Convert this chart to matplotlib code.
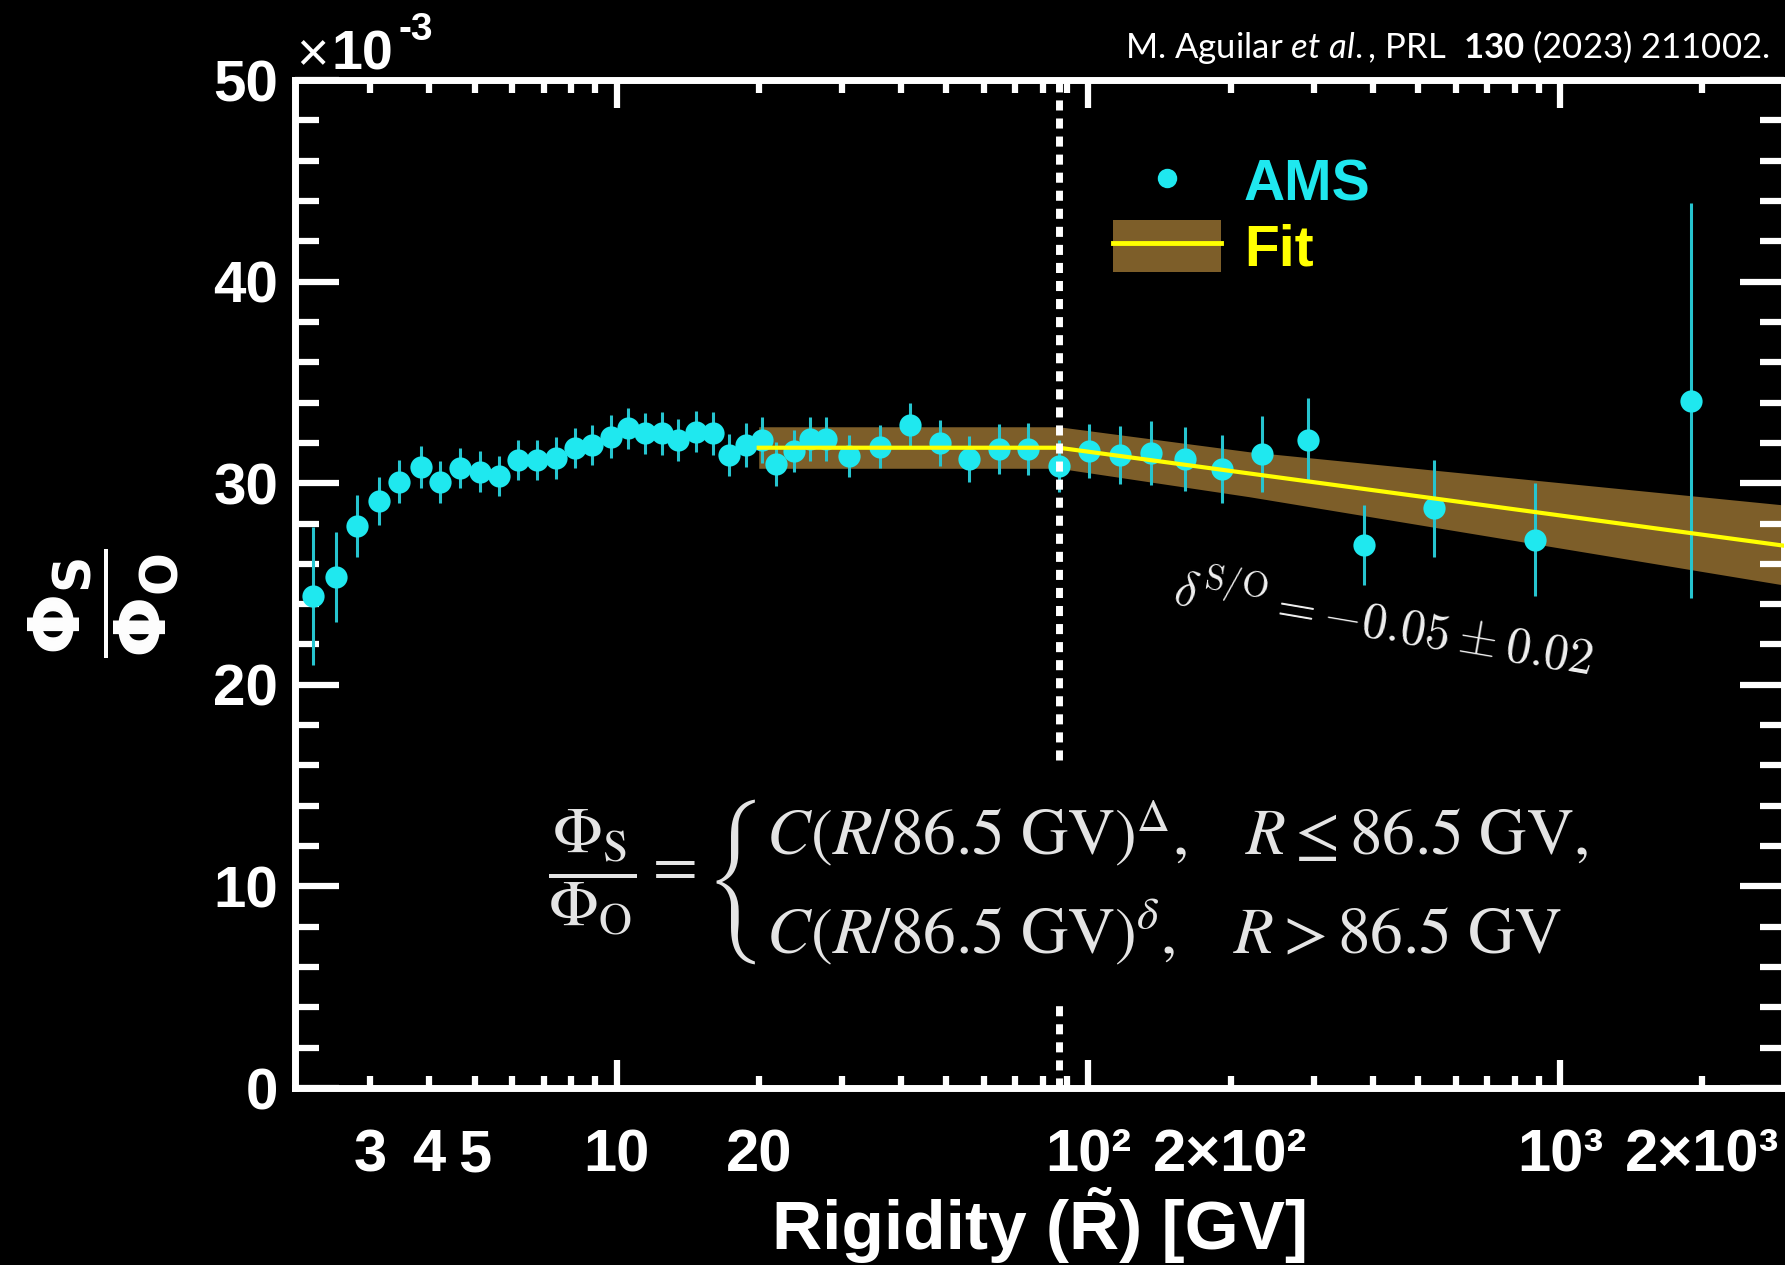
import matplotlib
matplotlib.use("Agg")
import matplotlib.pyplot as plt
from matplotlib.ticker import FixedLocator, FixedFormatter, FuncFormatter, LogLocator, MultipleLocator
from matplotlib.lines import Line2D
from matplotlib.patches import Patch
from matplotlib.legend_handler import HandlerTuple

# AMS S/O flux ratio (x1e-3)
rigidity = [2.27, 2.54, 2.82, 3.13, 3.46, 3.84, 4.23, 4.65, 5.13, 5.62, 6.18, 6.78,
            7.43, 8.15, 8.88, 9.71, 10.56, 11.5, 12.5, 13.5, 14.75, 16.0, 17.3, 18.8,
            20.3, 21.8, 23.7, 25.7, 27.8, 31.0, 36.1, 41.9, 48.4, 55.9, 64.7, 74.6,
            86.4, 100.3, 116.4, 135.7, 160, 191.7, 233, 292, 383, 539, 885, 1893]
ratio = [24.4, 25.36, 27.88, 29.13, 30.08, 30.8, 30.06, 30.74, 30.57, 30.36, 31.16, 31.16,
         31.24, 31.73, 31.9, 32.31, 32.72, 32.47, 32.47, 32.14, 32.56, 32.47, 31.4, 31.9,
         32.14, 30.95, 31.6, 32.2, 32.2, 31.35, 31.8, 32.9, 32.0, 31.2, 31.7, 31.7,
         30.85, 31.6, 31.4, 31.5, 31.2, 30.7, 31.45, 32.14, 26.93, 28.75, 27.2, 34.1]
ratio_err = [3.43, 2.23, 1.53, 1.2, 1.07, 1.03, 1.03, 1.0, 1.03, 1.0, 1.0, 1.0,
             1.03, 1.0, 1.0, 1.05, 1.03, 1.03, 1.07, 1.05, 1.03, 1.05, 1.05, 1.1,
             1.15, 1.07, 1.03, 1.1, 1.1, 1.03, 1.07, 1.1, 1.15, 1.15, 1.24, 1.28,
             1.28, 1.32, 1.45, 1.57, 1.6, 1.7, 1.9, 2.1, 2.0, 2.4, 2.8, 9.8]

# broken power-law fit and its uncertainty band
fit_r = [20.0, 86.5, 2980]
fit_val = [31.76, 31.76, 26.9]
band_r = [20.0, 86.5, 219, 2980]
band_lo = [30.74, 30.74, 29.33, 24.95]
band_hi = [32.8, 32.8, 31.56, 28.92]
break_r = 86.5

y_ticks = [0, 10, 20, 30, 40, 50]
x_major = [10, 100, 1000]
x_major_labels = ["10", "10²", "10³"]
x_minor_labeled = {3: "3", 4: "4", 5: "5", 20: "20", 200: "2×10²", 2000: "2×10³"}

cyan = "#1fe8ef"
ecyan = "#26c4cf"
band_col = "#7d5e29"
grey = "#e4e4e4"

W, H = 1785, 1265
def fx(p):
    return p / W
def fy(p):
    return 1 - p / H

plt.rcParams["font.family"] = ["Liberation Sans", "DejaVu Sans"]
plt.rcParams["mathtext.rm"] = "Lato"
plt.rcParams["mathtext.it"] = "Lato:italic"
plt.rcParams["mathtext.bf"] = "Lato:bold"

fig = plt.figure(figsize=(17.85, 12.65), dpi=100, facecolor="black")
ax = fig.add_axes([fx(295), fy(1088), fx(1784 - 295), (1088 - 80) / H])
ax.set_facecolor("black")

ax.fill_between(band_r, band_lo, band_hi, color=band_col, lw=0, zorder=1)
ax.errorbar(rigidity, ratio, yerr=ratio_err, fmt="o", ms=16, mfc=cyan, mec="none",
            ecolor=ecyan, elinewidth=2.2, capsize=0, zorder=2)
ax.plot(fit_r, fit_val, color="#ffff00", lw=3, zorder=3)
# dotted break line, interrupted where the formula sits
ax.axvline(break_r, ymin=0.325, ymax=1, color="white", lw=5, dashes=(1.45, 1.15), zorder=4)
ax.axvline(break_r, ymin=0, ymax=0.083, color="white", lw=5, dashes=(1.45, 1.15), zorder=4)

ax.set_xscale("log")
ax.set_xlim(2.08, 2980)
ax.set_ylim(0, 50)

ax.xaxis.set_major_locator(FixedLocator(x_major))
ax.xaxis.set_major_formatter(FixedFormatter(x_major_labels))
ax.xaxis.set_minor_locator(LogLocator(base=10, subs=range(2, 10)))

def minor_fmt(v, pos):
    for k, lab in x_minor_labeled.items():
        if abs(v - k) < 1e-6 * k:
            return lab
    return ""
ax.xaxis.set_minor_formatter(FuncFormatter(minor_fmt))

ax.yaxis.set_major_locator(FixedLocator(y_ticks))
ax.yaxis.set_major_formatter(FixedFormatter([str(t) for t in y_ticks]))
ax.yaxis.set_minor_locator(MultipleLocator(2))

for s in ax.spines.values():
    s.set_color("white")
    s.set_linewidth(5)

ax.tick_params(axis="x", which="major", direction="in", length=20, width=4.5,
               colors="white", top=True, labelsize=43, pad=29)
ax.tick_params(axis="x", which="minor", direction="in", length=9, width=4.5,
               colors="white", top=True, labelsize=43, pad=29)
ax.tick_params(axis="y", which="major", direction="in", length=32, width=4.5,
               colors="white", right=True, labelsize=42, pad=12)
ax.tick_params(axis="y", which="minor", direction="in", length=17, width=4.5,
               colors="white", right=True)
plt.setp(ax.get_xticklabels(which="both") + ax.get_yticklabels(which="both"), fontweight="bold")

# legend
ams_h = Line2D([], [], ls="none", marker="o", ms=14, mfc=cyan, mec="none")
fit_h = (Patch(facecolor=band_col, edgecolor="none"), Line2D([], [], color="#ffff00", lw=3.5))
ax.legend([ams_h, fit_h], ["AMS", "Fit"], handler_map={tuple: HandlerTuple(ndivide=1)},
          loc="upper left", bbox_to_anchor=(fx(1113), fy(155)), bbox_transform=fig.transFigure,
          frameon=False, borderpad=0, borderaxespad=0, handlelength=1.9, handleheight=1.05,
          handletextpad=0.4, labelspacing=0.12, numpoints=1,
          prop={"family": "Liberation Sans", "weight": "bold", "size": 41},
          labelcolor=[cyan, "#ffff00"])

# axis labels and annotations
fig.text(fx(1040), fy(1249), "Rigidity (R\u0303) [GV]", fontsize=50, color="white",
         ha="center", va="baseline", fontweight="bold")
fig.text(fx(104), fy(603), r"$\dfrac{\mathbf{\Phi_S}}{\mathbf{\Phi_O}}$", fontsize=52,
         color="white", rotation=90, ha="center", va="center", math_fontfamily="dejavusans")
fig.text(fx(296), fy(70), "×", fontsize=40, color="white", ha="left", va="baseline")
fig.text(fx(331), fy(70), "10", fontsize=40, color="white", ha="left", va="baseline",
         fontweight="bold")
fig.text(fx(398), fy(40), "-3", fontsize=28, color="white", ha="left", va="baseline",
         fontweight="bold")

fig.text(fx(1770), fy(58), r"M. Aguilar $\mathit{et\ al.}$, PRL  $\mathbf{130}$ (2023) 211002.",
         fontsize=25, color="white", ha="right", va="baseline", family="Lato",
         math_fontfamily="custom")

# piecewise formula (nested genfrac gives the extra gap between the two cases)
formula = (r"$\dfrac{\Phi_{\rm S}}{\Phi_{\rm O}} = \left\{\genfrac{}{}{0}{0}"
           r"{C(R/86.5\ {\rm GV})^{\Delta},\quad R \leq 86.5\ {\rm GV},}"
           r"{\genfrac{}{}{0}{0}{\,}{C(R/86.5\ {\rm GV})^{\delta},\quad R > 86.5\ {\rm GV}\hspace{0.62}}}"
           r"\right.$")
fig.text(fx(548), fy(882), formula, fontsize=47, color=grey, ha="left", va="center",
         math_fontfamily="stix")

fig.text(fx(1172), fy(603), r"$\delta^{\mathrm{S/O}} = -0.05 \pm 0.02$", fontsize=36,
         color="#f0f0f0", rotation=-9.7, rotation_mode="anchor", ha="left", va="baseline",
         math_fontfamily="cm")

fig.savefig("out.png", dpi=100, facecolor="black")
